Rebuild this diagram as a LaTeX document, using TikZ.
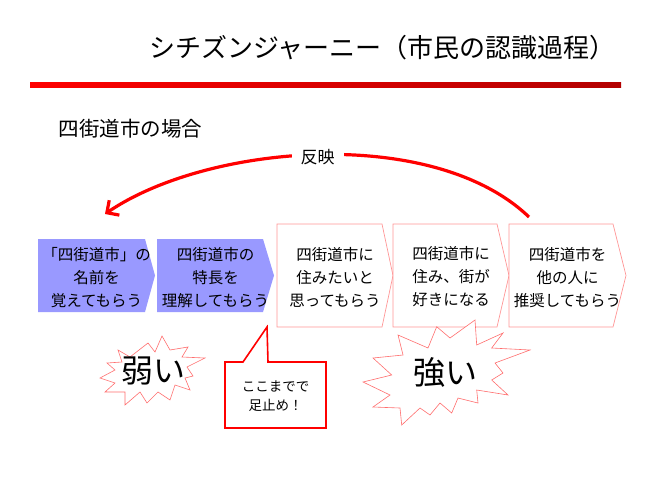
\documentclass[tikz,border=0pt]{standalone}
\usepackage{fontspec}
\newfontfamily\jp{Noto Sans CJK JP}
\usetikzlibrary{arrows.meta}
\definecolor{bluebox}{RGB}{153,153,255}
\definecolor{pinkline}{RGB}{255,150,150}
\definecolor{starline}{RGB}{255,110,110}
\begin{document}
\begin{tikzpicture}[x=1pt,y=-1pt,
  bluestep/.style={fill=bluebox, draw=none},
  pinkstep/.style={fill=white, draw=pinkline, line width=0.7pt},
  boxtext/.style={font=\jp\fontsize{15.5}{23}\selectfont, align=center, inner sep=0pt},
  burst/.style={fill=white, draw=starline, line width=0.6pt, line join=miter},
  bursttext/.style={font=\jp\fontsize{32}{36}\selectfont, inner sep=0pt},
  reflect/.style={draw=red, line width=3.2pt, -{Straight Barb[length=9pt,width=18pt]}},
  callout/.style={fill=white, draw=red, line width=1.6pt, line join=miter}]
\useasboundingbox (0,0) rectangle (650,488);
% title
\node[font=\jp\fontsize{26}{30}\selectfont, inner sep=0pt] (title) at (382.5,47.5) {シチズンジャーニー（市民の認識過程）};
\shade[left color=red, right color=red!70!black] (30,82) rectangle (621,87);
\node[font=\jp\fontsize{20.5}{24}\selectfont, inner sep=0pt] (sub) at (130.5,128.5) {四街道市の場合};
% steps
\path[bluestep] (38,239) -- (145,239) -- (155,275.5) -- (145,312) -- (38,312) -- cycle;
\path[bluestep] (157,239) -- (263,239) -- (274,275.5) -- (263,312) -- (157,312) -- cycle;
\path[pinkstep] (277,224) -- (382,224) -- (393,275.5) -- (382,327) -- (277,327) -- cycle;
\path[pinkstep] (393,224) -- (497,224) -- (509,275.5) -- (497,327) -- (393,327) -- cycle;
\path[pinkstep] (509,224) -- (613,224) -- (626,275.5) -- (613,327) -- (509,327) -- cycle;
\node[boxtext] (t1) at (96.5,277.5) {「四街道市」の\\名前を\\覚えてもらう};
\node[boxtext] (t2) at (215.5,277.5) {四街道市の\\特長を\\理解してもらう};
\node[boxtext] (t3) at (335,277.5) {四街道市に\\住みたいと\\思ってもらう};
\node[boxtext] (t4) at (451,277) {四街道市に\\住み、街が\\好きになる};
\node[boxtext] (t5) at (567.5,277.5) {四街道市を\\他の人に\\推奨してもらう};
% reflection arc
\coordinate (arcS) at (529,217);
\coordinate (arcE) at (105,214);
\draw[reflect] (arcS) .. controls (433.5,125.4) and (208.5,143.6) .. (arcE);
\node[fill=white, font=\jp\fontsize{17}{20}\selectfont, inner xsep=9pt, inner ysep=3pt] (hanei) at (317.5,157) {反映};
% bursts
\path[burst] (130,357) -- (148,343) -- (155,352) -- (162,336) -- (170,350) -- (188,347) -- (182,357) -- (205,358) -- (187,367) -- (193,376) -- (185,378) -- (190,390) -- (175,385) -- (170,400) -- (158,392) -- (147,403) -- (140,392) -- (125,405) -- (125,392) -- (105,392) -- (115,383) -- (100,378) -- (115,370) -- (107,363) -- (122,362) -- (118,350) -- cycle;
\node[bursttext] (weak) at (153.5,371) {弱い};
\path[burst] (436.7,326.7) -- (450,338) -- (475,320) -- (476.7,345) -- (503,333) -- (491.7,348) -- (530,350) -- (495,363) -- (503,373) -- (491.7,380) -- (508,395) -- (476.7,390) -- (478,403) -- (458,398) -- (451.7,413) -- (440,403) -- (430,415) -- (420,408) -- (401.7,425) -- (400,408) -- (373,407) -- (390,395) -- (363,382) -- (391.7,375) -- (373,358) -- (403,355) -- (398,335) -- (428,348) -- cycle;
\node[bursttext] (strong) at (445,372) {強い};
% callout
\path[callout] (225,362) -- (243,362) -- (267,327) -- (268,362) -- (326,362) -- (326,428) -- (225,428) -- cycle;
\node[font=\jp\fontsize{13.5}{19}\selectfont, align=center, inner sep=0pt] (stop) at (275.5,396) {ここまでで\\足止め！};
\end{tikzpicture}
\end{document}
